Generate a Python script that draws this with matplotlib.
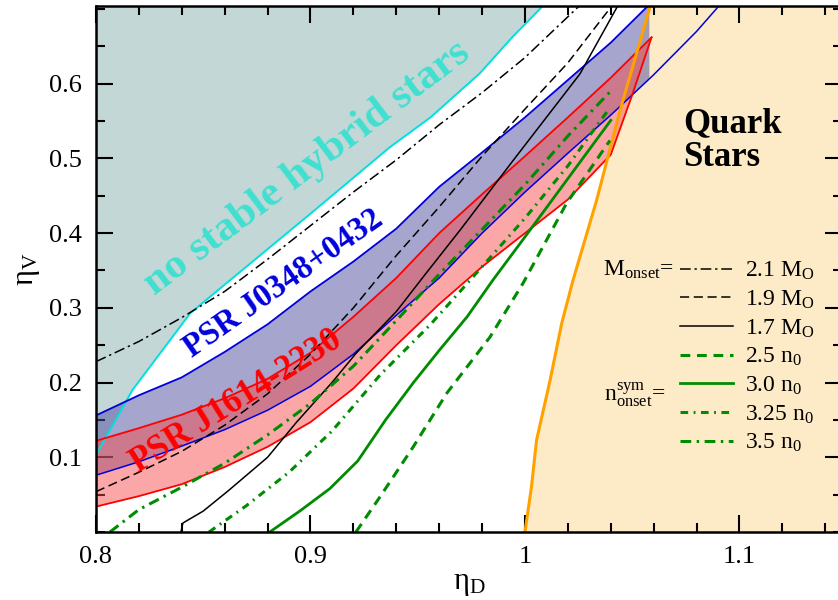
import numpy as np
import matplotlib
matplotlib.use('Agg')
import matplotlib.pyplot as plt
from matplotlib.ticker import MultipleLocator, FixedLocator
from matplotlib.lines import Line2D

plt.rcParams['font.family'] = ['Liberation Serif', 'DejaVu Serif']
plt.rcParams['mathtext.fontset'] = 'custom'
plt.rcParams['mathtext.rm'] = 'Liberation Serif'
plt.rcParams['mathtext.it'] = 'Liberation Serif:italic'
plt.rcParams['mathtext.bf'] = 'Liberation Serif:bold'

# ---------------- data (eta_D, eta_V) ----------------
# boundary of "no stable hybrid stars" region
cyan_x = [0.800, 0.817, 0.844, 0.8625, 0.900, 0.937, 0.956, 0.979, 0.994, 1.009]
cyan_y = [0.103, 0.190, 0.293, 0.337, 0.426, 0.515, 0.555, 0.614, 0.662, 0.706]

# PSR J0348+0432 band
bhi_x = [0.80, 0.82, 0.84, 0.86, 0.88, 0.90, 0.92, 0.94, 0.96, 0.98, 1.00, 1.02, 1.04, 1.058]
bhi_y = [0.156, 0.183, 0.207, 0.241, 0.278, 0.322, 0.362, 0.406, 0.462, 0.508, 0.555, 0.605, 0.655, 0.706]
blo_x = [0.80, 0.82, 0.84, 0.86, 0.88, 0.90, 0.92, 0.94, 0.96, 0.98, 1.00, 1.02, 1.04, 1.06, 1.08, 1.091]
blo_y = [0.076, 0.094, 0.115, 0.137, 0.163, 0.195, 0.238, 0.290, 0.340, 0.400, 0.455, 0.507, 0.558, 0.612, 0.670, 0.706]
b_cut = 1.058

# PSR J1614-2230 band
rhi_x = [0.80, 0.82, 0.84, 0.86, 0.88, 0.90, 0.92, 0.94, 0.96, 0.98, 1.00, 1.02, 1.04, 1.059]
rhi_y = [0.122, 0.139, 0.157, 0.179, 0.205, 0.240, 0.288, 0.340, 0.400, 0.452, 0.503, 0.555, 0.608, 0.662]
rlo_x = [0.80, 0.82, 0.84, 0.86, 0.88, 0.90, 0.92, 0.94, 0.96, 0.98, 1.00, 1.02, 1.04, 1.05, 1.059]
rlo_y = [0.034, 0.048, 0.064, 0.087, 0.114, 0.147, 0.192, 0.250, 0.305, 0.355, 0.400, 0.445, 0.505, 0.585, 0.662]

# quark star boundary
or_x = [1.000, 1.003, 1.0054, 1.0117, 1.0171, 1.0224, 1.0334, 1.0443, 1.0586]
or_y = [0.000, 0.060, 0.123, 0.203, 0.279, 0.337, 0.444, 0.564, 0.706]

# constant onset mass lines
m21_x = [0.80, 0.82, 0.84, 0.86, 0.88, 0.90, 0.92, 0.94, 0.96, 0.98, 1.00, 1.026]
m21_y = [0.228, 0.255, 0.287, 0.322, 0.365, 0.410, 0.455, 0.498, 0.545, 0.588, 0.635, 0.706]
m19_x = [0.80, 0.82, 0.84, 0.86, 0.88, 0.90, 0.92, 0.94, 0.96, 0.98, 1.00, 1.02, 1.041]
m19_y = [0.054, 0.080, 0.108, 0.143, 0.185, 0.238, 0.300, 0.370, 0.435, 0.503, 0.566, 0.628, 0.706]
m17_x = [0.8396, 0.8405, 0.85, 0.862, 0.88, 0.8932, 0.91, 0.9212, 0.94, 0.9538, 0.97, 0.9944, 1.01, 1.0256, 1.0436]
m17_y = [0.000, 0.012, 0.028, 0.056, 0.100, 0.146, 0.200, 0.239, 0.295, 0.346, 0.405, 0.497, 0.555, 0.613, 0.706]

# constant onset density lines
n25_x = [0.9212, 0.9324, 0.9479, 0.9636, 0.9837, 0.9991, 1.0194, 1.0396]
n25_y = [0.000, 0.047, 0.114, 0.186, 0.261, 0.333, 0.440, 0.524]
n30_x = [0.881, 0.895, 0.909, 0.922, 0.935, 0.948, 0.960, 0.973, 0.985, 1.000, 1.020, 1.040]
n30_y = [0.000, 0.028, 0.058, 0.095, 0.150, 0.200, 0.243, 0.288, 0.337, 0.395, 0.473, 0.551]
n325_x = [0.8527, 0.87, 0.89, 0.91, 0.9324, 0.9557, 0.9744, 1.00, 1.02, 1.0396]
n325_y = [0.000, 0.035, 0.080, 0.135, 0.210, 0.277, 0.337, 0.420, 0.490, 0.568]
n35_x = [0.8065, 0.82, 0.84, 0.86, 0.88, 0.90, 0.92, 0.94, 0.96, 0.98, 1.00, 1.02, 1.0396]
n35_y = [0.000, 0.030, 0.060, 0.092, 0.130, 0.172, 0.222, 0.283, 0.345, 0.405, 0.465, 0.530, 0.589]

x_ticks = [0.8, 0.9, 1.0, 1.1]
x_ticklabels = ['0.8', '0.9', '1', '1.1']
y_ticks = [0.1, 0.2, 0.3, 0.4, 0.5, 0.6]
y_ticklabels = ['0.1', '0.2', '0.3', '0.4', '0.5', '0.6']

m_labels = ['2.1 M$_\\mathrm{O}$', '1.9 M$_\\mathrm{O}$', '1.7 M$_\\mathrm{O}$']
n_labels = ['2.5 n$_\\mathrm{0}$', '3.0 n$_\\mathrm{0}$', '3.25 n$_\\mathrm{0}$', '3.5 n$_\\mathrm{0}$']

XMIN, XMAX, YMIN, YMAX = 0.8, 1.1478, 0.0, 0.704

# ---------------- figure ----------------
fig = plt.figure(figsize=(8.38, 6.0), dpi=100)
ax = fig.add_axes([96/838, 68/600, (842-96)/838, 526/600])
ax.set_xlim(XMIN, XMAX)
ax.set_ylim(YMIN, YMAX)

GREEN = '#008c00'

# filled regions
ax.fill_between(cyan_x, cyan_y, 0.72, facecolor='#c3d7d7', edgecolor='none', zorder=1)
ax.fill_betweenx(or_y, or_x, XMAX + 0.01, facecolor='#fdebc8', edgecolor='none', zorder=1)

blo_cut = float(np.interp(b_cut, blo_x, blo_y))
bpx = list(bhi_x) + [b_cut] + [x for x in blo_x[::-1] if x < b_cut]
bpy = list(bhi_y) + [blo_cut] + [y for x, y in zip(blo_x[::-1], blo_y[::-1]) if x < b_cut]
ax.fill(bpx, bpy, facecolor=(0.30, 0.30, 0.62, 0.50), edgecolor='none', zorder=2)
rpx = list(rhi_x) + list(rlo_x[::-1])
rpy = list(rhi_y) + list(rlo_y[::-1])
ax.fill(rpx, rpy, facecolor=(0.97, 0.28, 0.28, 0.48), edgecolor='none', zorder=2)

# boundary lines
ax.plot(cyan_x, cyan_y, color='#00e0e0', lw=1.4, zorder=3)
ax.plot(bhi_x, bhi_y, color='#0000dd', lw=1.3, zorder=3)
ax.plot(blo_x, blo_y, color='#0000dd', lw=1.1, zorder=3)
ax.plot(rhi_x, rhi_y, color='#ff0000', lw=1.3, zorder=3)
ax.plot(rlo_x, rlo_y, color='#ff0000', lw=1.3, zorder=3)
ax.plot(or_x, or_y, color='#ffa200', lw=2.2, zorder=3)

# onset lines
styles = {
    'm21': dict(color='k', lw=1.1, dashes=(7, 2.5, 1.5, 2.5)),
    'm19': dict(color='k', lw=1.1, dashes=(6, 3)),
    'm17': dict(color='k', lw=1.1),
    'n25': dict(color=GREEN, lw=2.2, dashes=(3.2, 2.2)),
    'n30': dict(color=GREEN, lw=2.0),
    'n325': dict(color=GREEN, lw=2.2, dashes=(2.5, 1.8, 0.6, 1.8)),
    'n35': dict(color=GREEN, lw=2.2, dashes=(3.5, 1.8, 0.8, 1.8)),
}
ax.plot(m21_x, m21_y, zorder=4, **styles['m21'])
ax.plot(m19_x, m19_y, zorder=4, **styles['m19'])
ax.plot(m17_x, m17_y, zorder=4, **styles['m17'])
ax.plot(n25_x, n25_y, zorder=4, **styles['n25'])
ax.plot(n30_x, n30_y, zorder=4, **styles['n30'])
ax.plot(n325_x, n325_y, zorder=4, **styles['n325'])
ax.plot(n35_x, n35_y, zorder=4, **styles['n35'])

# annotations
ax.text(0.8985, 0.487, 'no stable hybrid stars', color='#40e0d0', fontsize=31,
        fontweight='bold', rotation=37, rotation_mode='anchor', ha='center', va='center', zorder=5)
ax.text(0.8872, 0.333, 'PSR J0348+0432', color='#0000dd', fontsize=23.5,
        fontweight='bold', rotation=35, rotation_mode='anchor', ha='center', va='center', zorder=5)
ax.text(0.8653, 0.174, 'PSR J1614-2230', color='#ff0000', fontsize=25,
        fontweight='bold', rotation=32, rotation_mode='anchor', ha='center', va='center', zorder=5)
ax.text(1.0737, 0.490, 'Quark\nStars', color='k', fontsize=25, fontweight='bold',
        ha='left', va='baseline', linespacing=1.02, zorder=5)

# legend
keys = ['m21', 'm19', 'm17', 'n25', 'n30', 'n325', 'n35']
handles = [Line2D([], [], **styles[k]) for k in keys]
leg = ax.legend(handles, m_labels + n_labels, loc='upper left', bbox_to_anchor=(0.783, 0.517),
                frameon=False, fontsize=17, handlelength=2.25, handletextpad=0.5,
                labelspacing=0.27, borderpad=0, borderaxespad=0)
leg.set_zorder(6)
ax.text(1.0364, 0.343, 'M$_\\mathrm{onset}$=', fontsize=17, ha='left', va='baseline', zorder=6)
ax.text(1.0370, 0.175, 'n$^\\mathrm{sym}_\\mathrm{onset}$=', fontsize=17, ha='left', va='baseline', zorder=6)

# axes styling
ax.xaxis.set_major_locator(FixedLocator(x_ticks))
ax.set_xticklabels(x_ticklabels)
ax.xaxis.set_minor_locator(MultipleLocator(0.02))
ax.yaxis.set_major_locator(FixedLocator(y_ticks))
ax.set_yticklabels(y_ticklabels)
ax.yaxis.set_minor_locator(MultipleLocator(0.05))
ax.tick_params(which='both', direction='in', top=True, right=True, width=1.5, labelsize=19)
ax.tick_params(which='major', length=12.5, pad=10)
ax.tick_params(which='minor', length=6.5)
for s in ax.spines.values():
    s.set_linewidth(1.8)
    s.set_zorder(7)
ax.set_xlabel('η$_\\mathrm{D}$', fontsize=22, labelpad=1)
ax.set_ylabel('η$_\\mathrm{V}$', fontsize=22, labelpad=5)

fig.savefig('out.png', dpi=100)
